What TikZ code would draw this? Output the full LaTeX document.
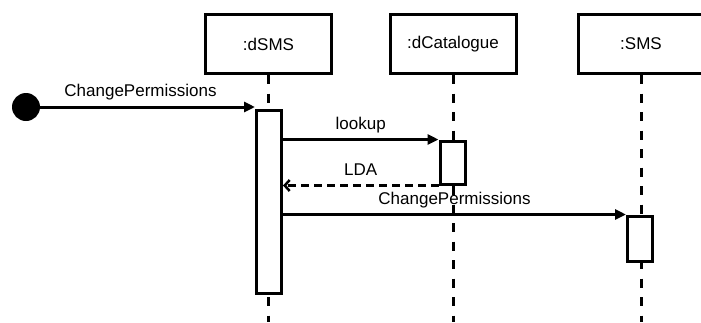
\documentclass[tikz,border=0pt]{standalone}
\usepackage{fontspec}
\setmainfont{Liberation Sans}
\usepackage{tikz}
\usetikzlibrary{positioning,arrows.meta}

\begin{document}
\begin{tikzpicture}[
  x=1pt, y=-1pt,
  obj/.style={draw, line width=3pt, minimum width=126pt, minimum height=59pt,
              inner sep=0pt, font=\fontsize{17}{20}\selectfont},
  act/.style={draw, fill=white, line width=3pt, minimum width=25pt,
              inner sep=0pt, anchor=north},
  life/.style={line width=3pt, dash pattern=on 9pt off 9.5pt},
  msg/.style={-{Triangle[length=11pt,width=10pt]}, line width=3pt},
  reply/.style={-{Straight Barb[length=5pt,width=11pt,line width=2.5pt]}, line width=3pt,
                dash pattern=on 8pt off 5pt},
  lbl/.style={font=\fontsize{17}{20}\selectfont, text height=12pt, text depth=4pt,
              inner sep=1pt, above=4pt}
]
\useasboundingbox (0,0) rectangle (701,322);

% --- objects ---
\node[obj] (dsms) at (268.5,44) {:dSMS};
\node[obj] (dcat) at (453,44) {:dCatalogue};
\node[obj] (sms)  at (641,44) {:SMS};

% --- lifelines ---
\coordinate (dsmsEnd) at (268.5,322);
\coordinate (dcatEnd) at (453,322);
\coordinate (smsEnd)  at (641,322);
\draw[life] (dsms.south) -- (dsmsEnd);
\draw[life] (dcat.south) -- (dcatEnd);
\draw[life] (sms.south)  -- (smsEnd);

% --- activations ---
\node[act, minimum height=183pt] (a1) at (269,108.5) {};
\node[act, minimum height=43pt]  (a2) at (452.5,139.5) {};
\node[act, minimum height=45pt]  (a3) at (640,214.5) {};

% --- start ---
\fill (26,107) circle (14pt) coordinate (start);

% --- messages ---
\draw[msg] (start) -- (start -| a1.west) node[lbl, midway] {ChangePermissions};
\draw[msg] (a1.east |- a2.north west) -- (a2.north west) node[lbl, midway] {lookup};
\draw[reply] (a2.south west) -- (a2.south west -| a1.east) node[lbl, midway] {LDA};
\draw[msg] (a1.east |- a3.north west) -- (a3.north west) node[lbl, midway] {ChangePermissions};

\end{tikzpicture}
\end{document}
